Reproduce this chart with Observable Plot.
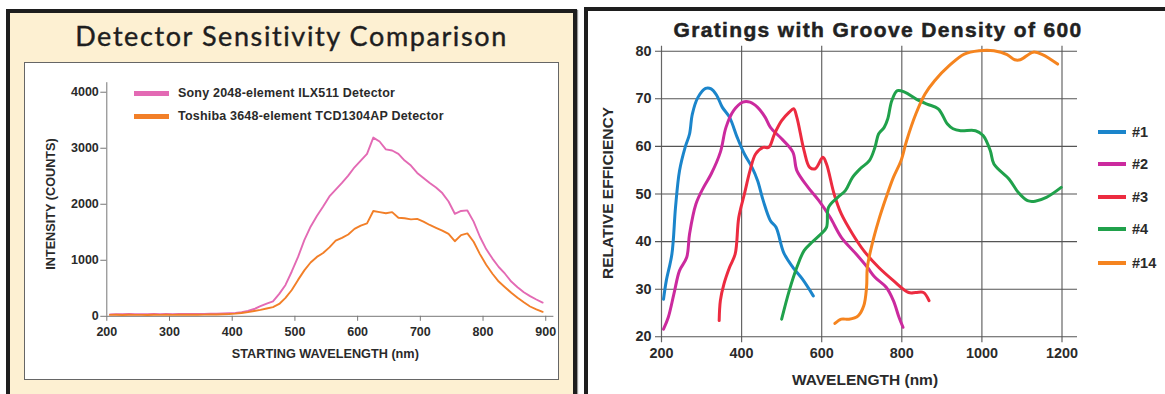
<!DOCTYPE html>
<html><head><meta charset="utf-8">
<script src="https://cdn.jsdelivr.net/npm/d3@7"></script>
<script src="https://cdn.jsdelivr.net/npm/@observablehq/plot@0.6"></script>
<style>
html,body{margin:0;padding:0;background:#fff;}
#page{position:relative;width:1165px;height:394px;overflow:hidden;background:#fff;font-family:"Liberation Sans",Arial,sans-serif;}
.abs{position:absolute;}
#leftFrame{left:6px;top:9px;width:563px;height:400px;border:4px solid #1e1e1e;border-bottom:none;background:#fdf0d2;box-shadow:1px 1px 1px #999;}
#leftBox{left:24px;top:62px;width:533px;height:316px;border:1px solid #666;background:#fff;}
#leftTitle{left:6px;width:571px;top:22px;text-align:center;font-family:Lato,"Open Sans",sans-serif;font-size:27px;line-height:27px;color:#1e1e1e;letter-spacing:1.6px;-webkit-text-stroke:0.4px #1e1e1e;white-space:nowrap;}
#rightFrame{left:584px;top:7px;width:600px;height:400px;border-top:4px solid #1e1e1e;border-left:4px solid #1e1e1e;background:#fff;}
#rightTitle{left:628px;width:500px;top:19px;text-align:center;font-weight:bold;font-size:21px;line-height:21px;color:#222;letter-spacing:1.35px;-webkit-text-stroke:0.5px #222;white-space:nowrap;}
.sw{position:absolute;}
.lt{position:absolute;font-weight:bold;color:#2a2a2a;white-space:nowrap;}
#leftSvg{left:25px;top:63px;}
#rightSvg{left:588px;top:11px;}
</style>
</head><body>
<div id="page">
  <div id="leftFrame" class="abs"></div>
  <div id="leftTitle" class="abs">Detector Sensitivity Comparison</div>
  <div id="leftBox" class="abs"></div>
  <div id="leftSvg" class="abs"></div>
  <div id="rightFrame" class="abs"></div>
  <div id="rightTitle" class="abs">Gratings with Groove Density of 600</div>
  <div id="rightSvg" class="abs"></div>
  <div id="legends"></div>
</div>
<script>
// ---------- Left chart data ----------
const leftXTicks = [200, 300, 400, 500, 600, 700, 800, 900];
const leftYTicks = [0, 1000, 2000, 3000, 4000];
const detectorNames = ["Sony 2048-element ILX511 Detector", "Toshiba 3648-element TCD1304AP Detector"];
const detWavelength = [205,215,225,235,245,255,265,275,285,295,305,315,325,335,345,355,365,375,385,395,
  405,415,425,435,445,455,465,475,485,495,505,515,525,535,545,555,565,575,585,595,
  605,615,625,635,645,655,665,675,685,695,705,715,725,735,745,755,765,775,785,795,
  805,815,825,835,845,855,865,875,885,895];
const sonyCounts = [35,38,36,40,37,39,36,40,38,41,39,42,40,43,41,44,45,47,50,55,
  62,75,95,130,180,225,265,400,560,800,1060,1360,1600,1790,1960,2140,2260,2380,2510,2660,
  2780,2900,3190,3120,2980,2960,2900,2780,2690,2560,2470,2380,2300,2200,2050,1830,1880,1890,1690,1420,
  1200,1030,880,760,620,520,430,360,300,245];
const toshibaCounts = [25,28,24,27,25,26,24,27,25,28,26,28,27,29,28,30,32,33,36,40,
  48,60,75,95,115,140,165,220,330,470,650,820,960,1060,1130,1230,1350,1400,1460,1560,
  1620,1660,1880,1860,1840,1860,1760,1750,1730,1740,1690,1630,1580,1530,1470,1340,1450,1480,1330,1110,
  920,760,620,520,420,330,250,175,125,80];

// ---------- Right chart data ----------
const rightXTicks = [200, 400, 600, 800, 1000, 1200];
const rightYTicks = [20, 30, 40, 50, 60, 70, 80];
const gratingNames = ["#1", "#2", "#3", "#4", "#14"];
const g1Wl  = [205,212,226,235,245,259,270,277,291,310,324,338,352,370,389,407,426,440,454,472,486,505,528,552,579];
const g1Eff = [27.9,31.8,37.4,47.2,54.9,59.8,62.6,66.8,70.3,72.2,72.1,70.7,68.2,66.1,61.9,58.4,55.6,52.8,48.6,44.4,43.0,37.7,34.6,32.1,28.6];
const g2Wl  = [205,217,231,245,263,270,286,305,324,347,361,380,403,421,440,459,472,500,528,538,566,593,621,649,686,714,733,761,779,793,803];
const g2Eff = [21.6,24.1,29.0,33.9,36.7,41.6,47.9,51.4,54.2,58.8,64.0,67.5,69.3,69.3,68.2,66.1,64.0,61.6,58.8,54.9,51.4,48.6,45.1,40.9,37.4,34.6,32.5,30.4,27.6,24.1,22.0];
const g3Wl  = [344,347,356,370,384,393,407,421,435,454,468,482,500,519,530,538,556,570,584,603,612,631,649,677,705,742,779,817,835,854,868];
const g3Eff = [23.4,27.6,31.1,34.6,37.4,45.1,50.0,54.9,58.4,59.8,59.8,62.6,65.4,67.2,67.9,66.1,59.1,55.6,55.3,57.7,56.3,50.0,45.8,41.6,38.1,34.6,31.8,29.3,29.3,29.3,27.6];
const g4Wl  = [500,519,538,556,575,598,612,617,640,659,677,696,719,733,742,756,765,775,789,807,835,863,891,914,928,947,984,1003,1021,1030,1068,1091,1114,1133,1161,1198];
const g4Eff = [23.7,29.7,34.6,38.1,39.8,41.6,43.0,47.2,49.3,50.7,53.5,55.3,57.0,59.8,62.6,64.0,65.8,69.6,71.7,71.4,70.0,68.9,67.9,64.7,63.7,63.3,63.3,62.3,59.1,56.3,53.1,50.3,48.6,48.5,49.3,51.4];
const g14Wl  = [633,649,668,691,705,712,714,724,742,761,779,798,812,835,858,882,919,956,993,1030,1063,1082,1096,1128,1151,1189];
const g14Eff = [22.8,23.7,23.7,24.4,26.5,30.4,34.6,38.8,44.4,49.3,53.5,57.0,61.2,66.8,71.0,73.8,77.0,79.4,80.1,80.1,79.3,78.2,78.2,79.8,79.3,77.3];

// ---------- styles ----------
const detColors = ["#e36ab4", "#f27f28"];
const gratingColors = ["#1b85cb", "#cb2a9e", "#ec2b40", "#20a14b", "#f5841f"];
const font = "'Liberation Sans', Arial, sans-serif";

const toRows = (xs, ys) => xs.map((x, i) => ({x, y: ys[i]}));

// ---------- Left plot ----------
const leftPlot = Plot.plot({
  width: 533, height: 316,
  marginLeft: 81.3, marginRight: 4.6, marginTop: 19.2, marginBottom: 63.2,
  style: {background: "transparent", fontFamily: font, fontSize: "12.5px", fontWeight: "bold", color: "#2a2a2a", overflow: "visible"},
  x: {domain: [200, 913]},
  y: {domain: [0, 4170]},
  marks: [
    Plot.ruleX([200], {stroke: "#777", strokeWidth: 1}),
    Plot.ruleY([0], {stroke: "#777", strokeWidth: 1}),
    Plot.axisX({ticks: leftXTicks, tickFormat: "d", tickSize: 5, tickPadding: 6, label: null, stroke: "#777"}),
    Plot.axisY({ticks: leftYTicks, tickFormat: "d", tickSize: 6, tickPadding: 2, label: null, stroke: "#777"}),
    Plot.line(toRows(detWavelength, sonyCounts), {x: "x", y: "y", stroke: detColors[0], strokeWidth: 1.9}),
    Plot.line(toRows(detWavelength, toshibaCounts), {x: "x", y: "y", stroke: detColors[1], strokeWidth: 1.9}),
    Plot.text(["INTENSITY (COUNTS)"], {text: d => d, frameAnchor: "left", rotate: -90, textAnchor: "middle", lineAnchor: "middle", dx: -55.6, dy: 4.5, fontSize: 12.7, fontWeight: "bold", fill: "#2a2a2a"}),
    Plot.text(["STARTING WAVELENGTH (nm)"], {text: d => d, frameAnchor: "bottom", textAnchor: "middle", lineAnchor: "middle", dx: -5, dy: 37.2, fontSize: 12.7, fontWeight: "bold", fill: "#2a2a2a"})
  ]
});
document.getElementById("leftSvg").appendChild(leftPlot);

// ---------- Right plot ----------
const gratingSeries = [[g1Wl, g1Eff], [g2Wl, g2Eff], [g3Wl, g3Eff], [g4Wl, g4Eff], [g14Wl, g14Eff]];
const rightPlot = Plot.plot({
  width: 577, height: 383,
  marginLeft: 73, marginRight: 103.5, marginTop: 39.7, marginBottom: 57.7,
  style: {background: "transparent", fontFamily: font, fontSize: "14.4px", fontWeight: "bold", color: "#2a2a2a", overflow: "visible"},
  x: {domain: [200, 1200]},
  y: {domain: [20, 80]},
  marks: [
    Plot.ruleX(rightXTicks, {stroke: "#666", strokeWidth: 1.2, insetTop: -5, insetBottom: -6}),
    Plot.ruleY(rightYTicks, {stroke: "#555", strokeWidth: 1.1, insetLeft: -6, insetRight: -15.5}),
    Plot.axisX({ticks: rightXTicks, tickFormat: "d", tickSize: 0, tickPadding: 10.7, label: null}),
    Plot.axisY({ticks: rightYTicks, tickFormat: "d", tickSize: 0, tickPadding: 10, label: null}),
    ...gratingSeries.map(([xs, ys], i) => Plot.line(toRows(xs, ys), {x: "x", y: "y", stroke: gratingColors[i], strokeWidth: 3, curve: "catmull-rom"})),
    Plot.text(["RELATIVE EFFICIENCY"], {text: d => d, frameAnchor: "left", rotate: -90, textAnchor: "middle", lineAnchor: "middle", dx: -53, dy: -1, fontSize: 15.5, fontWeight: "bold", fill: "#2a2a2a"}),
    Plot.text(["WAVELENGTH (nm)"], {text: d => d, frameAnchor: "bottom", textAnchor: "middle", lineAnchor: "middle", dx: 3.25, dy: 43.7, fontSize: 15.5, fontWeight: "bold", fill: "#2a2a2a"})
  ]
});
document.getElementById("rightSvg").appendChild(rightPlot);

// ---------- Legends (HTML) ----------
const legends = document.getElementById("legends");
function addLegend(x0, w, h, tx, fs, ls, centers, names, colors) {
  names.forEach((n, i) => {
    const sw = document.createElement("div");
    sw.className = "sw";
    Object.assign(sw.style, {left: x0 + "px", top: (centers[i] - h / 2) + "px", width: w + "px", height: h + "px", background: colors[i]});
    legends.appendChild(sw);
    const t = document.createElement("div");
    t.className = "lt";
    t.textContent = n;
    Object.assign(t.style, {left: tx + "px", top: (centers[i] - 8) + "px", lineHeight: "16px", fontSize: fs + "px", letterSpacing: ls + "px"});
    legends.appendChild(t);
  });
}
addLegend(134, 35, 5, 178, 12.5, 0.2, [93, 116], detectorNames, detColors);
addLegend(1098, 28, 4, 1132, 14.5, 0, [131.7, 163.7, 197, 229, 262.7], gratingNames, gratingColors);
</script>
</body></html>
